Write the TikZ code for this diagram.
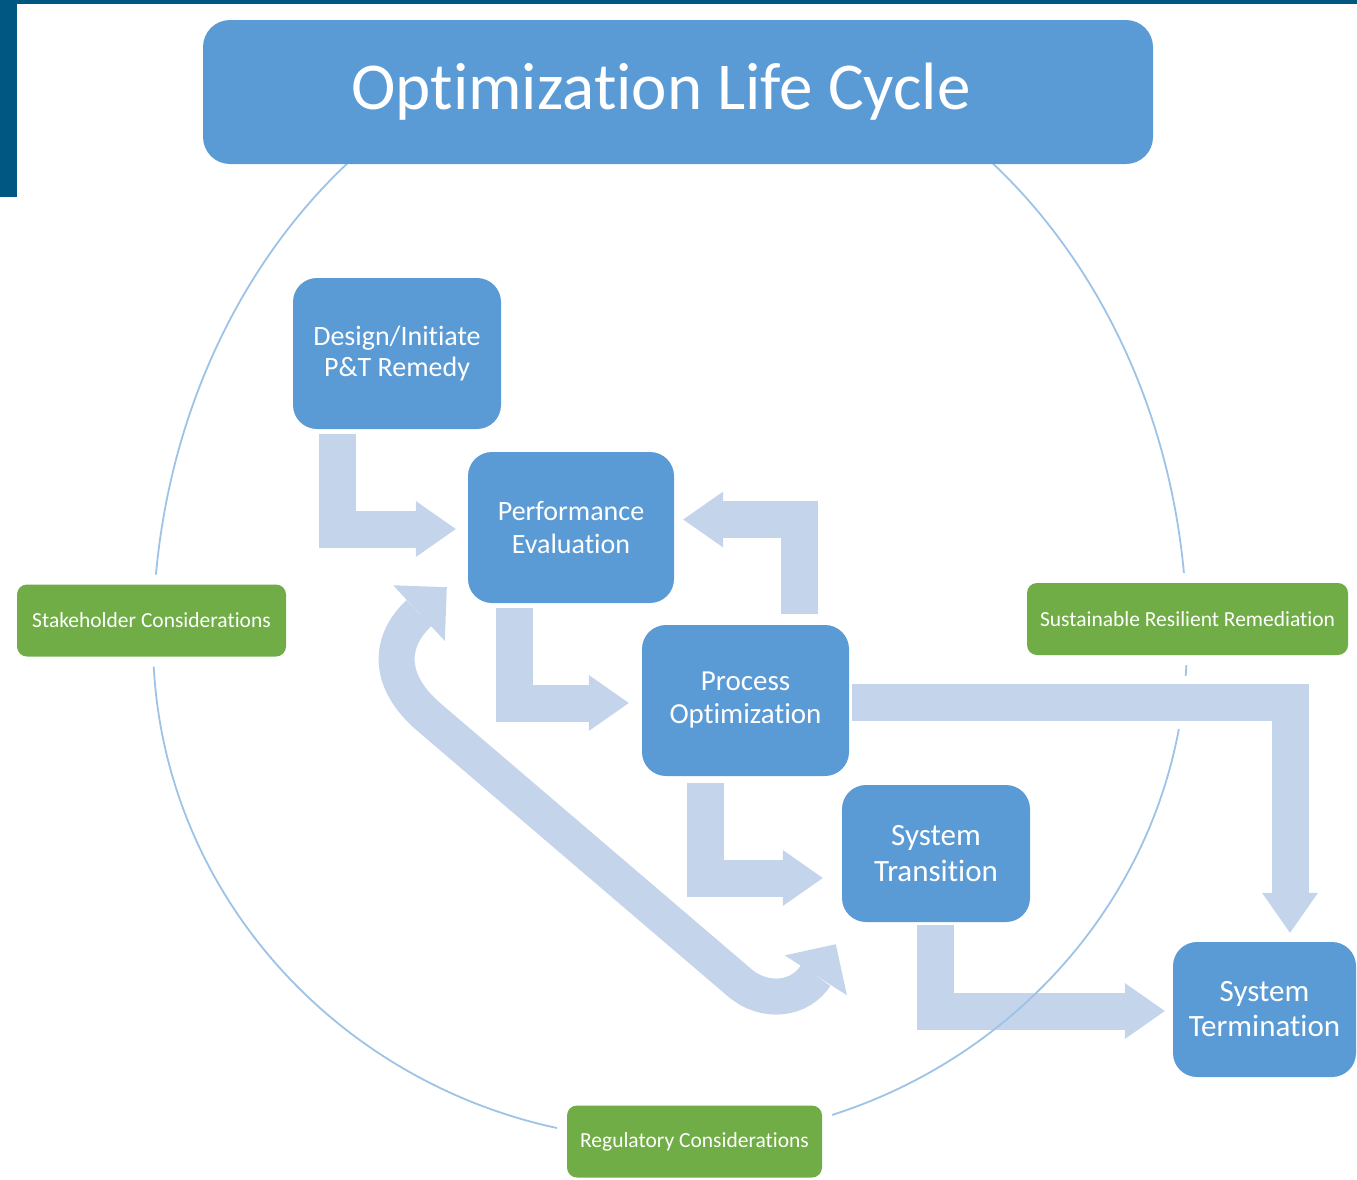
\documentclass[tikz,border=0pt]{standalone}
\usepackage{fontspec}
\setmainfont{Carlito}[Ligatures=NoCommon]
\usepackage{tikz}
\usetikzlibrary{arrows.meta,backgrounds}
\definecolor{boxblue}{RGB}{91,155,213}
\definecolor{boxgreen}{RGB}{112,173,71}
\definecolor{flowblue}{RGB}{196,213,235}
\definecolor{ringblue}{RGB}{157,195,230}
\definecolor{barblue}{RGB}{0,87,130}
\tikzstyle{heading} = [fill=boxblue,text=white,rounded corners=27pt,minimum width=950pt,minimum height=144pt,font=\fontsize{67}{70}\selectfont]
\tikzstyle{phase}   = [fill=boxblue,text=white,rounded corners=24pt,align=center,inner sep=0pt]
\tikzstyle{factor}  = [fill=boxgreen,text=white,rounded corners=10pt,inner sep=0pt,minimum height=72pt,font=\fontsize{21.5}{24}\selectfont,preaction={draw=white,line width=20pt}]
\tikzstyle{flow}    = [draw=flowblue,line width=37pt,-{Triangle[width=56pt,length=40pt,line width=0pt]}]
\tikzstyle{loopflow} = [draw=flowblue,line width=36pt,{Triangle[width=76pt,length=38pt,line width=0pt]}-{Triangle[width=74pt,length=37pt,line width=0pt]}]
\tikzstyle{ring}    = [draw=ringblue,line width=1.8pt]

\begin{document}
\begin{tikzpicture}[x=1pt,y=-1pt]
\useasboundingbox (0,0) rectangle (1357,1179);
\fill[barblue] (0,0) rectangle (1357,4);
\fill[barblue] (0,0) rectangle (17,197);

\node[heading] (Title) at (678,92) {\hspace*{-34pt}Optimization Life Cycle};

\node[phase,minimum width=208pt,minimum height=151pt,font=\fontsize{28}{31}\selectfont] (Design) at (397,353.5) {Design/Initiate\\P\&T Remedy};
\node[phase,minimum width=206pt,minimum height=151pt,font=\fontsize{28}{33}\selectfont] (Eval)   at (571,527.5) {Performance\\Evaluation};
\node[phase,minimum width=207pt,minimum height=151pt,font=\fontsize{29}{33}\selectfont] (Opt)    at (745.5,700.5) {Process\\Optimization};
\node[phase,minimum width=188pt,minimum height=137pt,font=\fontsize{31}{36}\selectfont] (Trans)  at (936,853.5) {System\\Transition};
\node[phase,minimum width=183pt,minimum height=135pt,font=\fontsize{31}{35}\selectfont] (Term)   at (1264.5,1009.5) {System\\Termination};

\node[factor,minimum width=269pt] (Stake) at (151.5,620.5) {Stakeholder Considerations};
\node[factor,minimum width=321pt] (SRR)   at (1187.5,619) {Sustainable Resilient Remediation};
\node[factor,minimum width=255pt] (Reg)   at (694.5,1141.5) {Regulatory Considerations};

\begin{scope}[on background layer]
\draw[flow,shorten <=5pt,shorten >=12pt] ([xshift=-60pt]Design.south) |- ([shift={(0,1.5)}]Eval.west);
\draw[flow,shorten <=5pt,shorten >=13pt] ([xshift=-56.5pt]Eval.south) |- ([shift={(0,2.5)}]Opt.west);
\draw[flow,shorten <=7pt,shorten >=19pt] ([xshift=-40.5pt]Opt.south) |- ([shift={(0,24.5)}]Trans.west);
\draw[flow,shorten <=3pt,shorten >=8pt]  ([xshift=-1pt]Trans.south) |- ([shift={(0,1.5)}]Term.west);
\draw[flow,shorten <=11pt,shorten >=9pt] ([xshift=53.5pt]Opt.north) |- ([shift={(0,-8)}]Eval.east);
\draw[loopflow] ([shift={(-21,-16)}]Eval.south west) .. controls +(-57,53) and (385,680) .. (430,718)
    -- (740,983) .. controls (765,1004) and (800,1000) .. ([shift={(-6,22)}]Trans.south west);

\draw[ring] (153,640) arc[start angle=180,end angle=360,x radius=517,y radius=610]
    arc[start angle=0,end angle=180,x radius=517,y radius=500];

\draw[flow,preaction={draw=white,line width=53pt},shorten <=3pt,shorten >=9pt] ([shift={(0,1.5)}]Opt.east) -| ([xshift=25.5pt]Term.north);
\end{scope}
\end{tikzpicture}
\end{document}
